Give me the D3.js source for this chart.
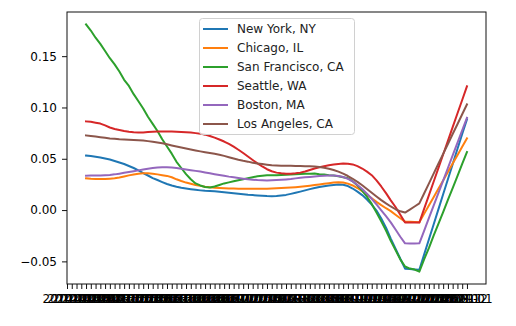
<!DOCTYPE html>
<html>
<head>
<meta charset="utf-8">
<script src="https://cdn.jsdelivr.net/npm/d3@7"></script>
<style>
  html, body { margin: 0; padding: 0; background: #fff; }
  svg { display: block; font-family: "DejaVu Sans", sans-serif; }
</style>
</head>
<body>
<svg id="chart" width="516" height="326"></svg>
<script>
// Monthly periods on the category axis
const months = [];
for (let yr = 2014; yr <= 2021; yr++) {
  for (let m = 1; m <= 12; m++) {
    months.push(yr + "-" + String(m).padStart(2, "0"));
  }
}
const dates = months.slice(0, 85);

// Year-over-year change by metro (first four periods have no value yet)
const newYork = [null, null, null, null,
  0.0532, 0.0527, 0.052, 0.0513, 0.0503, 0.0493, 0.0479, 0.0464, 0.0449, 0.043,
  0.041, 0.0386, 0.0361, 0.0337, 0.0312, 0.0293, 0.0273, 0.0254, 0.0239, 0.0227,
  0.0217, 0.021, 0.0203, 0.0197, 0.0192, 0.0188, 0.0186, 0.0183, 0.0179, 0.0174,
  0.0169, 0.0164, 0.0159, 0.0154, 0.0149, 0.0146, 0.0142, 0.0139, 0.0136, 0.0135,
  0.0137, 0.0142, 0.0148, 0.0158, 0.0169, 0.018, 0.0192, 0.0204, 0.0215, 0.0225,
  0.0232, 0.0239, 0.0245, 0.0249, 0.0247, 0.0234, 0.021, 0.018, 0.0146, 0.0103,
  0.0054, -0.0005, -0.0083, -0.0171, -0.0278, -0.0376, -0.0474, -0.0571, -0.0574, -0.0578,
  -0.0581, -0.0434, -0.0287, -0.014, 0.0007, 0.0154, 0.0301, 0.0448, 0.0595, 0.0742,
  0.0885];

const chicago = [null, null, null, null,
  0.031, 0.0305, 0.0303, 0.0302, 0.0303, 0.0306, 0.031, 0.0318, 0.0328, 0.0338,
  0.0347, 0.0354, 0.0358, 0.0358, 0.0354, 0.0348, 0.034, 0.0333, 0.032, 0.030,
  0.0283, 0.0268, 0.0256, 0.0245, 0.0236, 0.0228, 0.0222, 0.0218, 0.0215, 0.0213,
  0.0211, 0.021, 0.0209, 0.0208, 0.0207, 0.0207, 0.0207, 0.0207, 0.0208, 0.021,
  0.0212, 0.0214, 0.0217, 0.022, 0.0223, 0.0227, 0.0232, 0.0238, 0.0244, 0.025,
  0.0256, 0.0262, 0.0268, 0.0271, 0.0268, 0.0258, 0.024, 0.0215, 0.0185, 0.015,
  0.0115, 0.008, 0.0048, 0.0018, -0.001, -0.0045, -0.008, -0.0112, -0.0114, -0.0117,
  -0.0119, -0.0037, 0.0044, 0.0126, 0.0208, 0.0289, 0.0371, 0.0453, 0.0535, 0.0616,
  0.0698];

const sanFrancisco = [null, null, null, null,
  0.181, 0.175, 0.168, 0.162, 0.155, 0.148, 0.142, 0.135, 0.127, 0.121,
  0.113, 0.106, 0.099, 0.091, 0.084, 0.077, 0.069, 0.062, 0.055, 0.047,
  0.041, 0.035, 0.030, 0.026, 0.024, 0.0225, 0.022, 0.023, 0.0245, 0.026,
  0.027, 0.028, 0.029, 0.030, 0.031, 0.032, 0.033, 0.0335, 0.034, 0.034,
  0.034, 0.0342, 0.0345, 0.0347, 0.035, 0.0352, 0.0354, 0.0355, 0.0356, 0.035,
  0.0347, 0.034, 0.0337, 0.033, 0.032, 0.031, 0.028, 0.024, 0.019, 0.013,
  0.006, -0.0025, -0.011, -0.020, -0.030, -0.039, -0.048, -0.055, -0.057, -0.058,
  -0.060, -0.048, -0.037, -0.025, -0.0135, -0.002, 0.010, 0.0215, 0.033, 0.045,
  0.0565];

const seattle = [null, null, null, null,
  0.0864, 0.086, 0.0852, 0.0843, 0.0825, 0.0805, 0.079, 0.078, 0.077, 0.0763,
  0.0758, 0.0756, 0.0757, 0.076, 0.0764, 0.0766, 0.0767, 0.0767, 0.0766, 0.0764,
  0.0762, 0.0759, 0.0755, 0.075, 0.0745, 0.0735, 0.0722, 0.0706, 0.0688, 0.0668,
  0.0645, 0.0618, 0.0588, 0.0556, 0.0522, 0.0488, 0.0455, 0.0425, 0.0398, 0.0378,
  0.0365, 0.0358, 0.0355, 0.0355, 0.0358, 0.0365, 0.0376, 0.039, 0.0405, 0.0418,
  0.0428, 0.0437, 0.0445, 0.045, 0.0453, 0.0452, 0.0445, 0.0428, 0.0405, 0.0375,
  0.034, 0.029, 0.023, 0.0165, 0.0095, 0.003, -0.0045, -0.0122, -0.0122, -0.0122,
  -0.0122, 0.0011, 0.0144, 0.0276, 0.0409, 0.0542, 0.0675, 0.0808, 0.0941, 0.1073,
  0.1206];

const boston = [null, null, null, null,
  0.0335, 0.0336, 0.0337, 0.0338, 0.034, 0.0343, 0.0348, 0.0355, 0.0363, 0.037,
  0.0378, 0.0387, 0.0395, 0.0403, 0.0409, 0.0414, 0.0417, 0.0418, 0.0415, 0.041,
  0.0403, 0.0396, 0.0389, 0.0382, 0.0375, 0.0367, 0.0359, 0.035, 0.0342, 0.0334,
  0.0326, 0.032, 0.0313, 0.0306, 0.030, 0.0296, 0.0292, 0.029, 0.0289, 0.029,
  0.0292, 0.0295, 0.0299, 0.0303, 0.0309, 0.0314, 0.0319, 0.0323, 0.0327, 0.0331,
  0.0334, 0.0336, 0.0336, 0.0333, 0.0322, 0.0304, 0.028, 0.0245, 0.0205, 0.016,
  0.011, 0.0055, -0.0002, -0.006, -0.012, -0.019, -0.026, -0.0324, -0.0325, -0.0325,
  -0.0324, -0.0202, -0.0079, 0.0043, 0.0166, 0.0288, 0.041, 0.0533, 0.0655, 0.0778,
  0.090];

const losAngeles = [null, null, null, null,
  0.0728, 0.0722, 0.0716, 0.071, 0.0704, 0.0698, 0.0694, 0.069, 0.0688, 0.0686,
  0.0683, 0.068, 0.0677, 0.0672, 0.0666, 0.0659, 0.0651, 0.0641, 0.063, 0.062,
  0.061, 0.060, 0.0591, 0.0581, 0.0572, 0.0564, 0.0556, 0.0548, 0.054, 0.0528,
  0.0515, 0.0502, 0.049, 0.048, 0.0472, 0.0462, 0.0455, 0.0448, 0.0442, 0.0437,
  0.0435, 0.0433, 0.0432, 0.0431, 0.043, 0.0429, 0.0428, 0.0427, 0.0425, 0.042,
  0.0412, 0.0402, 0.039, 0.0375, 0.0355, 0.0332, 0.0305, 0.0275, 0.0242, 0.0205,
  0.0168, 0.0132, 0.0097, 0.0065, 0.0035, 0.0008, -0.0012, -0.0024, 0.0005, 0.0035,
  0.0065, 0.0162, 0.0258, 0.0355, 0.0451, 0.0548, 0.0644, 0.0741, 0.0837, 0.0934,
  0.103];

const seriesNames = ["New York, NY", "Chicago, IL", "San Francisco, CA", "Seattle, WA", "Boston, MA", "Los Angeles, CA"];
const seriesValues = [newYork, chicago, sanFrancisco, seattle, boston, losAngeles];
const colors = ["#1f77b4", "#ff7f0e", "#2ca02c", "#d62728", "#9467bd", "#8c564b"];
const yTicks = [-0.05, 0.00, 0.05, 0.10, 0.15];

// Plot frame
const frame = { left: 67, right: 486, top: 12, bottom: 284 };
const svg = d3.select("#chart");

// Data limits with 5% padding on both axes
const idx = d3.range(dates.length);
const valid = idx.filter(i => seriesValues.some(s => s[i] !== null));
const xMin = d3.min(valid), xMax = d3.max(valid);
const xPad = (xMax - xMin) * 0.05;
const x = d3.scaleLinear().domain([xMin - xPad, xMax + xPad]).range([frame.left, frame.right]);

const allVals = seriesValues.flat().filter(v => v !== null);
const yMin = d3.min(allVals), yMax = d3.max(allVals);
const yPad = (yMax - yMin) * 0.05;
const y = d3.scaleLinear().domain([yMin - yPad, yMax + yPad]).range([frame.bottom, frame.top]);

// Lines
const line = d3.line()
  .defined(d => d.v !== null)
  .x(d => x(d.i))
  .y(d => y(d.v));

const plot = svg.append("g");
seriesValues.forEach((vals, k) => {
  plot.append("path")
    .datum(vals.map((v, i) => ({ i, v })))
    .attr("fill", "none")
    .attr("stroke", colors[k])
    .attr("stroke-width", 2)
    .attr("stroke-linejoin", "round")
    .attr("stroke-linecap", "square")
    .attr("d", line);
});

// Axes
const fmtY = v => (v < 0 ? "\u2212" : "") + Math.abs(v).toFixed(2);
const yAxis = d3.axisLeft(y).tickValues(yTicks).tickFormat(fmtY).tickSize(5).tickPadding(5);
const gy = svg.append("g").attr("transform", `translate(${frame.left},0)`).call(yAxis);

const xAxis = d3.axisBottom(x)
  .tickValues(idx.filter(i => x(i) >= frame.left - 0.5 && x(i) <= frame.right + 0.5))
  .tickFormat(i => dates[i])
  .tickSize(5).tickPadding(5);
const gx = svg.append("g").attr("transform", `translate(0,${frame.bottom})`).call(xAxis);

[gx, gy].forEach(g => {
  g.select(".domain").remove();
  g.selectAll(".tick line").attr("stroke", "#111").attr("stroke-width", 1);
  g.selectAll(".tick text")
    .attr("fill", "#000")
    .style("font-family", "'DejaVu Sans', sans-serif")
    .style("font-size", "12px");
});

// Frame spines
svg.append("rect")
  .attr("x", frame.left).attr("y", frame.top)
  .attr("width", frame.right - frame.left).attr("height", frame.bottom - frame.top)
  .attr("fill", "none")
  .attr("stroke", "#111")
  .attr("stroke-width", 1);

// Legend
const lg = svg.append("g").attr("transform", "translate(199,18)");
lg.append("rect")
  .attr("x", 0.5).attr("y", 0.5)
  .attr("width", 155).attr("height", 116)
  .attr("rx", 3)
  .attr("fill", "#fff").attr("fill-opacity", 0.8)
  .attr("stroke", "#d0d0d0").attr("stroke-width", 1);

seriesNames.forEach((name, k) => {
  const row = lg.append("g").attr("transform", `translate(0,${11 + k * 19})`);
  row.append("line")
    .attr("x1", 4).attr("x2", 29)
    .attr("y1", 0).attr("y2", 0)
    .attr("stroke", colors[k]).attr("stroke-width", 2);
  row.append("text")
    .attr("x", 38).attr("y", 0)
    .attr("dy", "0.36em")
    .attr("fill", "#222")
    .style("font-size", "12px")
    .text(name);
});
</script>
</body>
</html>
